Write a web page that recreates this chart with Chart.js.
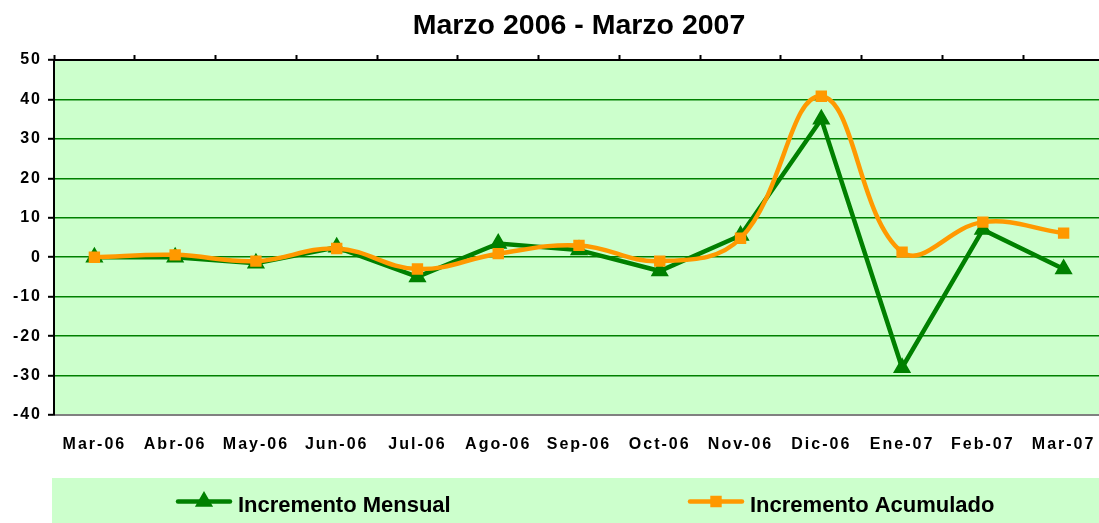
<!DOCTYPE html>
<html>
<head>
<meta charset="utf-8">
<script src="https://cdn.jsdelivr.net/npm/chart.js@4"></script>
<style>
  html, body { margin: 0; padding: 0; background: #fff; overflow: hidden; }
  canvas { display: block; }
</style>
</head>
<body>
<canvas id="chart" width="1104" height="523"></canvas>
<script>
const months = ["Mar-06", "Abr-06", "May-06", "Jun-06", "Jul-06", "Ago-06", "Sep-06",
  "Oct-06", "Nov-06", "Dic-06", "Ene-07", "Feb-07", "Mar-07"];
const mensual = [0, 0, -1.5, 2.5, -5, 3.5, 1.8, -3.5, 5.5, 35, -28, 7, -3];
const acumulado = [0, 0.6, -1, 2.2, -3, 0.9, 3, -1, 4.8, 40.8, 1.3, 8.9, 6.1];
const yTicks = [50, 40, 30, 20, 10, 0, -10, -20, -30, -40];

const GREEN = "#008000";
const ORANGE = "#FF9900";
const FONT = "'Liberation Sans', Arial, sans-serif";

// plot background + letter spacing for the axis labels (drawn after the datasets)
const plotBg = {
  id: "plotBg",
  beforeDraw(chart) {
    const { ctx, chartArea: a } = chart;
    ctx.letterSpacing = "0px";
    ctx.save();
    ctx.fillStyle = "#CCFFCC";
    ctx.fillRect(a.left, a.top, a.right - a.left, a.bottom - a.top);
    ctx.restore();
  },
  afterDatasetsDraw(chart) {
    chart.ctx.letterSpacing = "2px";
  },
  afterDraw(chart) {
    const ctx = chart.ctx;
    ctx.letterSpacing = "0px";
    // legend box
    ctx.save();
    ctx.fillStyle = "#CCFFCC";
    ctx.fillRect(52, 478, chart.width - 52, 45);
    const items = [
      { ds: chart.data.datasets[1], x: 178 },
      { ds: chart.data.datasets[0], x: 690 },
    ];
    items.forEach(it => {
      const ds = it.ds;
      ctx.strokeStyle = ds.borderColor;
      ctx.fillStyle = ds.borderColor;
      ctx.lineWidth = 4.5;
      ctx.lineCap = "round";
      ctx.beginPath();
      ctx.moveTo(it.x, 501.5);
      ctx.lineTo(it.x + 52, 501.5);
      ctx.stroke();
      ctx.lineWidth = ds.pointBorderWidth;
      Chart.helpers.drawPoint(ctx, {
        pointStyle: ds.pointStyle, radius: ds.pointRadius, rotation: 0, borderWidth: ds.pointBorderWidth
      }, it.x + 26, 501.5);
      ctx.fillStyle = "#000";
      ctx.font = "bold 22px " + FONT;
      ctx.textBaseline = "alphabetic";
      ctx.textAlign = "left";
      ctx.fillText(ds.label, it.x + 60, 512);
    });
    ctx.restore();
  }
};

new Chart(document.getElementById("chart"), {
  type: "line",
  data: {
    labels: months,
    datasets: [
      {
        label: "Incremento Acumulado",
        data: acumulado,
        borderColor: ORANGE,
        backgroundColor: ORANGE,
        borderWidth: 4.5,
        tension: 0.4,
        pointStyle: "rect",
        pointRadius: 7,
        pointBorderWidth: 1.5,
        pointBackgroundColor: ORANGE,
        pointBorderColor: ORANGE,
        order: 1,
      },
      {
        label: "Incremento Mensual",
        data: mensual,
        borderColor: GREEN,
        backgroundColor: GREEN,
        borderWidth: 4.5,
        tension: 0,
        pointStyle: "triangle",
        pointRadius: 8.5,
        pointBorderWidth: 2,
        pointBackgroundColor: GREEN,
        pointBorderColor: GREEN,
        order: 2,
      },
    ]
  },
  options: {
    responsive: false,
    animation: false,
    layout: { padding: 0, autoPadding: false },
    plugins: {
      legend: { display: false },
      tooltip: { enabled: false },
      title: {
        display: true,
        fullSize: false,
        text: "Marzo 2006 - Marzo 2007",
        color: "#000",
        font: { family: FONT, size: 28.5, weight: "bold" },
        padding: { top: 9, bottom: 12 },
      },
    },
    scales: {
      x: {
        position: "bottom",
        offset: true,
        grid: { display: false, drawTicks: true, tickLength: 20 },
        border: { display: true, color: "#808080", width: 2 },
        ticks: {
          z: 1,
          color: "#000",
          padding: 0,
          autoSkip: false,
          maxRotation: 0,
          font: { family: FONT, size: 16, weight: "bold" },
        },
        afterFit(scale) { scale.height = 108; },
      },
      x2: {
        position: "top",
        type: "category",
        labels: months,
        offset: true,
        grid: {
          offset: true,
          drawOnChartArea: false,
          drawTicks: true,
          tickLength: 5,
          tickColor: "#000",
          tickWidth: 2,
        },
        border: { display: true, color: "#000", width: 2 },
        ticks: { display: false },
        afterFit(scale) { scale.height = 60 - 34.2 - 21; },
      },
      y: {
        min: -40,
        max: 50,
        afterBuildTicks(scale) { scale.ticks = yTicks.map(v => ({ value: v })); },
        grid: {
          color: ctx => ctx.tick.value === 50 ? "rgba(0,0,0,0)" : (ctx.tick.value === -40 ? "#808080" : GREEN),
          lineWidth: 1.6,
          tickLength: 6,
          tickColor: "#000",
          tickWidth: 2,
        },
        border: { display: true, color: "#000", width: 2 },
        ticks: {
          z: 1,
          color: "#000",
          padding: 6,
          font: { family: FONT, size: 16, weight: "bold" },
        },
        afterFit(scale) { scale.width = 54; },
      },
    },
  },
  plugins: [plotBg],
});
</script>
</body>
</html>
